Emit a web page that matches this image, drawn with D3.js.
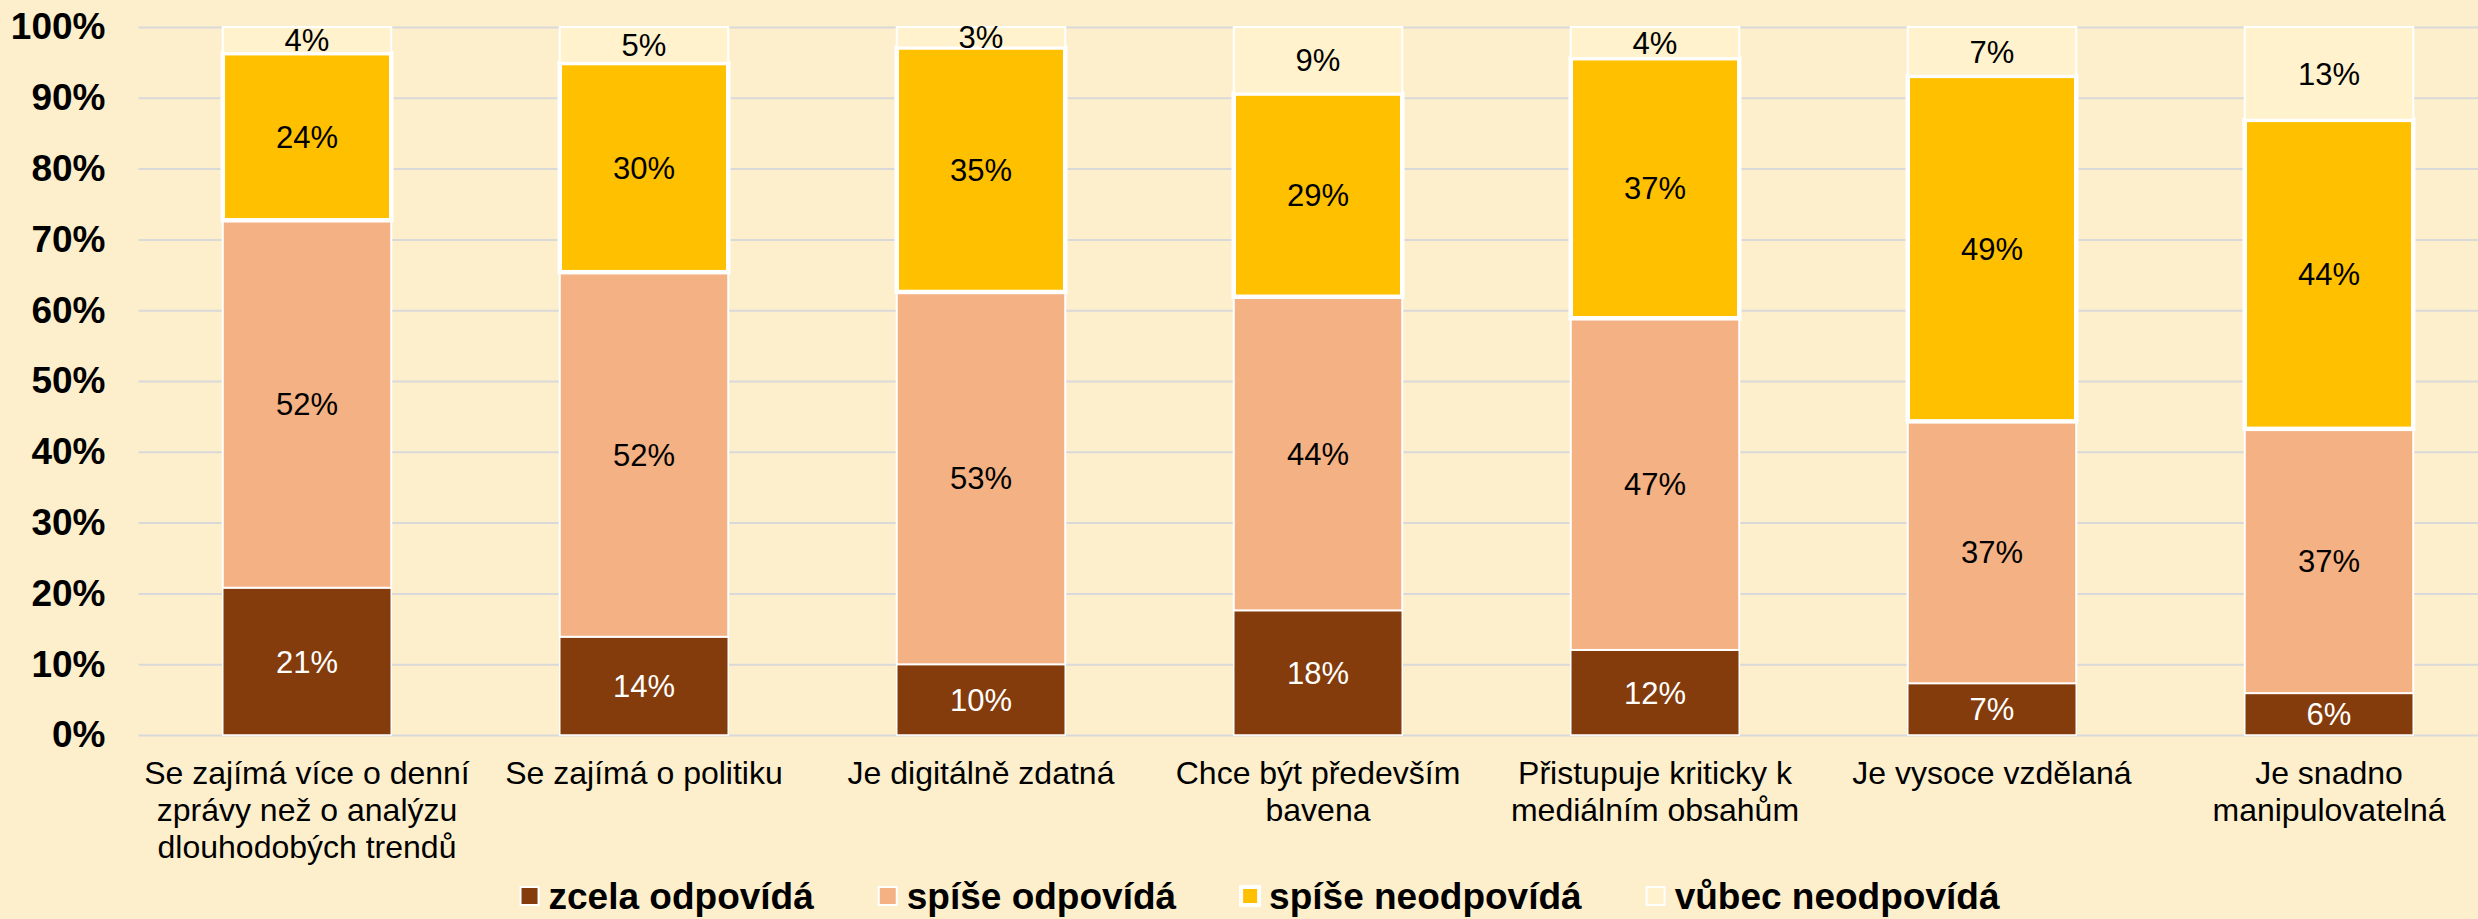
<!DOCTYPE html>
<html>
<head>
<meta charset="utf-8">
<script src="https://cdn.jsdelivr.net/npm/d3@7"></script>
<style>
  html, body { margin: 0; padding: 0; background: #fdefcc; overflow: hidden; }
  svg { display: block; font-family: Arial, "Liberation Sans", sans-serif; }
</style>
</head>
<body>
<svg id="chart"></svg>
<script>
'use strict';

// Data
const CATEGORIES = [
  'Se zajímá více o denní zprávy než o analýzu dlouhodobých trendů',
  'Se zajímá o politiku',
  'Je digitálně zdatná',
  'Chce být především bavena',
  'Přistupuje kriticky k mediálním obsahům',
  'Je vysoce vzdělaná',
  'Je snadno manipulovatelná'
];
const SERIES = ['zcela odpovídá', 'spíše odpovídá', 'spíše neodpovídá', 'vůbec neodpovídá'];
const ZCELA_ODPOVIDA = [20.8, 13.9, 10.0, 17.6, 12.0, 7.3, 5.9];
const SPISE_ODPOVIDA = [51.9, 51.6, 52.7, 44.3, 46.8, 37.0, 37.3];
const SPISE_NEODPOVIDA = [23.6, 29.6, 34.6, 28.7, 36.7, 48.8, 43.6];
const VUBEC_NEODPOVIDA = [3.7, 5.1, 2.9, 9.4, 4.4, 6.9, 13.1];
const Y_TICKS = [0, 0.1, 0.2, 0.3, 0.4, 0.5, 0.6, 0.7, 0.8, 0.9, 1];

// Styles
const COLORS = ['#843c0c', '#f4b183', '#ffc000', '#fff2cc'];
const LABEL_COLORS = ['#ffffff', '#000000', '#000000', '#000000'];
const STROKE_WIDTHS = [1.5, 2, 4.5, 2];

const WIDTH = 2478;
const HEIGHT = 919;
const PLOT_LEFT = 138.5;
const PLOT_TOP = 27;
const PLOT_BOTTOM = 735;

const columns = [ZCELA_ODPOVIDA, SPISE_ODPOVIDA, SPISE_NEODPOVIDA, VUBEC_NEODPOVIDA];
const table = CATEGORIES.map((category, i) => {
  const row = { category: category };
  SERIES.forEach((name, s) => { row[name] = columns[s][i]; });
  return row;
});

const svg = d3.select('#chart')
  .attr('width', WIDTH)
  .attr('height', HEIGHT);

svg.append('rect')
  .attr('width', WIDTH)
  .attr('height', HEIGHT)
  .attr('fill', '#fdefcc');

const x = d3.scaleBand()
  .domain(CATEGORIES)
  .range([PLOT_LEFT, PLOT_LEFT + 337 * 7])
  .paddingInner(0.5)
  .paddingOuter(0.25);

const y = d3.scaleLinear()
  .domain([0, 1])
  .range([PLOT_BOTTOM, PLOT_TOP]);

// Gridlines
svg.append('g')
  .attr('class', 'grid')
  .attr('transform', 'translate(' + PLOT_LEFT + ',0)')
  .call(d3.axisRight(y).tickValues(Y_TICKS).tickSize(WIDTH - PLOT_LEFT).tickFormat(''))
  .call(g => g.select('.domain').remove())
  .call(g => g.selectAll('line').attr('stroke', '#d9d9d9').attr('stroke-width', 2));

// Y axis labels
svg.append('g')
  .attr('class', 'y-axis')
  .attr('transform', 'translate(' + PLOT_LEFT + ',0)')
  .call(d3.axisLeft(y).tickValues(Y_TICKS).tickSize(0).tickPadding(33).tickFormat(d3.format('.0%')))
  .call(g => g.select('.domain').remove())
  .call(g => g.selectAll('text')
    .attr('font-family', 'Arial, "Liberation Sans", sans-serif')
    .attr('font-size', 37)
    .attr('font-weight', 'bold')
    .attr('fill', '#000'));

// Stacked bars
const stacked = d3.stack()
  .keys(SERIES)
  .offset(d3.stackOffsetExpand)(table);

const layers = svg.append('g')
  .attr('class', 'bars')
  .selectAll('g')
  .data(stacked)
  .enter()
  .append('g')
    .attr('fill', (d, i) => COLORS[i])
    .attr('stroke', '#ffffff')
    .attr('stroke-width', (d, i) => STROKE_WIDTHS[i]);

layers.selectAll('rect')
  .data(d => d)
  .enter()
  .append('rect')
    .attr('x', d => x(d.data.category))
    .attr('y', d => y(d[1]))
    .attr('width', x.bandwidth())
    .attr('height', d => y(d[0]) - y(d[1]));

// Value labels
const fmt = d3.format('.0f');
svg.append('g')
  .attr('class', 'values')
  .selectAll('g')
  .data(stacked)
  .enter()
  .append('g')
    .attr('fill', (d, i) => LABEL_COLORS[i])
  .selectAll('text')
  .data(layer => layer.map(d => ({ key: layer.key, d: d })))
  .enter()
  .append('text')
    .attr('x', o => x(o.d.data.category) + x.bandwidth() / 2)
    .attr('y', o => (y(o.d[0]) + y(o.d[1])) / 2)
    .attr('dy', '0.36em')
    .attr('text-anchor', 'middle')
    .attr('font-size', 31)
    .text(o => fmt(o.d.data[o.key]) + '%');

// Category labels, wrapped to the band step like the spreadsheet does
const LINE_HEIGHT = 37;
const catLabels = svg.append('g')
  .attr('class', 'x-labels')
  .selectAll('text')
  .data(CATEGORIES)
  .enter()
  .append('text')
    .attr('x', d => x(d) + x.bandwidth() / 2)
    .attr('y', 784)
    .attr('text-anchor', 'middle')
    .attr('font-size', 32)
    .attr('fill', '#000');

catLabels.each(function (d) {
  const text = d3.select(this);
  const words = d.split(' ');
  const maxWidth = x.step() - 6;
  let line = [];
  let tspan = text.append('tspan').attr('x', text.attr('x')).attr('dy', 0);
  words.forEach(word => {
    line.push(word);
    tspan.text(line.join(' '));
    if (tspan.node().getComputedTextLength() > maxWidth && line.length > 1) {
      line.pop();
      tspan.text(line.join(' '));
      line = [word];
      tspan = text.append('tspan')
        .attr('x', text.attr('x'))
        .attr('dy', LINE_HEIGHT)
        .text(word);
    }
  });
});

// Legend
const legend = svg.append('g').attr('class', 'legend');
const items = legend.selectAll('g')
  .data(SERIES)
  .enter()
  .append('g');

items.append('rect')
  .attr('x', 0)
  .attr('y', -9)
  .attr('width', 18)
  .attr('height', 18)
  .attr('fill', (d, i) => COLORS[i])
  .attr('stroke', '#ffffff')
  .attr('stroke-width', (d, i) => i === 2 ? 4 : 2);

items.append('text')
  .attr('x', 28)
  .attr('dy', '0.36em')
  .attr('font-size', 37)
  .attr('font-weight', 'bold')
  .attr('fill', '#000')
  .text(d => d);

let offset = 0;
const positions = [];
items.each(function () {
  positions.push(offset);
  const w = d3.select(this).select('text').node().getComputedTextLength();
  offset += 28 + w + 65;
});
const legendWidth = offset - 65;
const legendLeft = 1260 - legendWidth / 2;
items.attr('transform', (d, i) => 'translate(' + (legendLeft + positions[i]) + ',896)');
</script>
</body>
</html>
